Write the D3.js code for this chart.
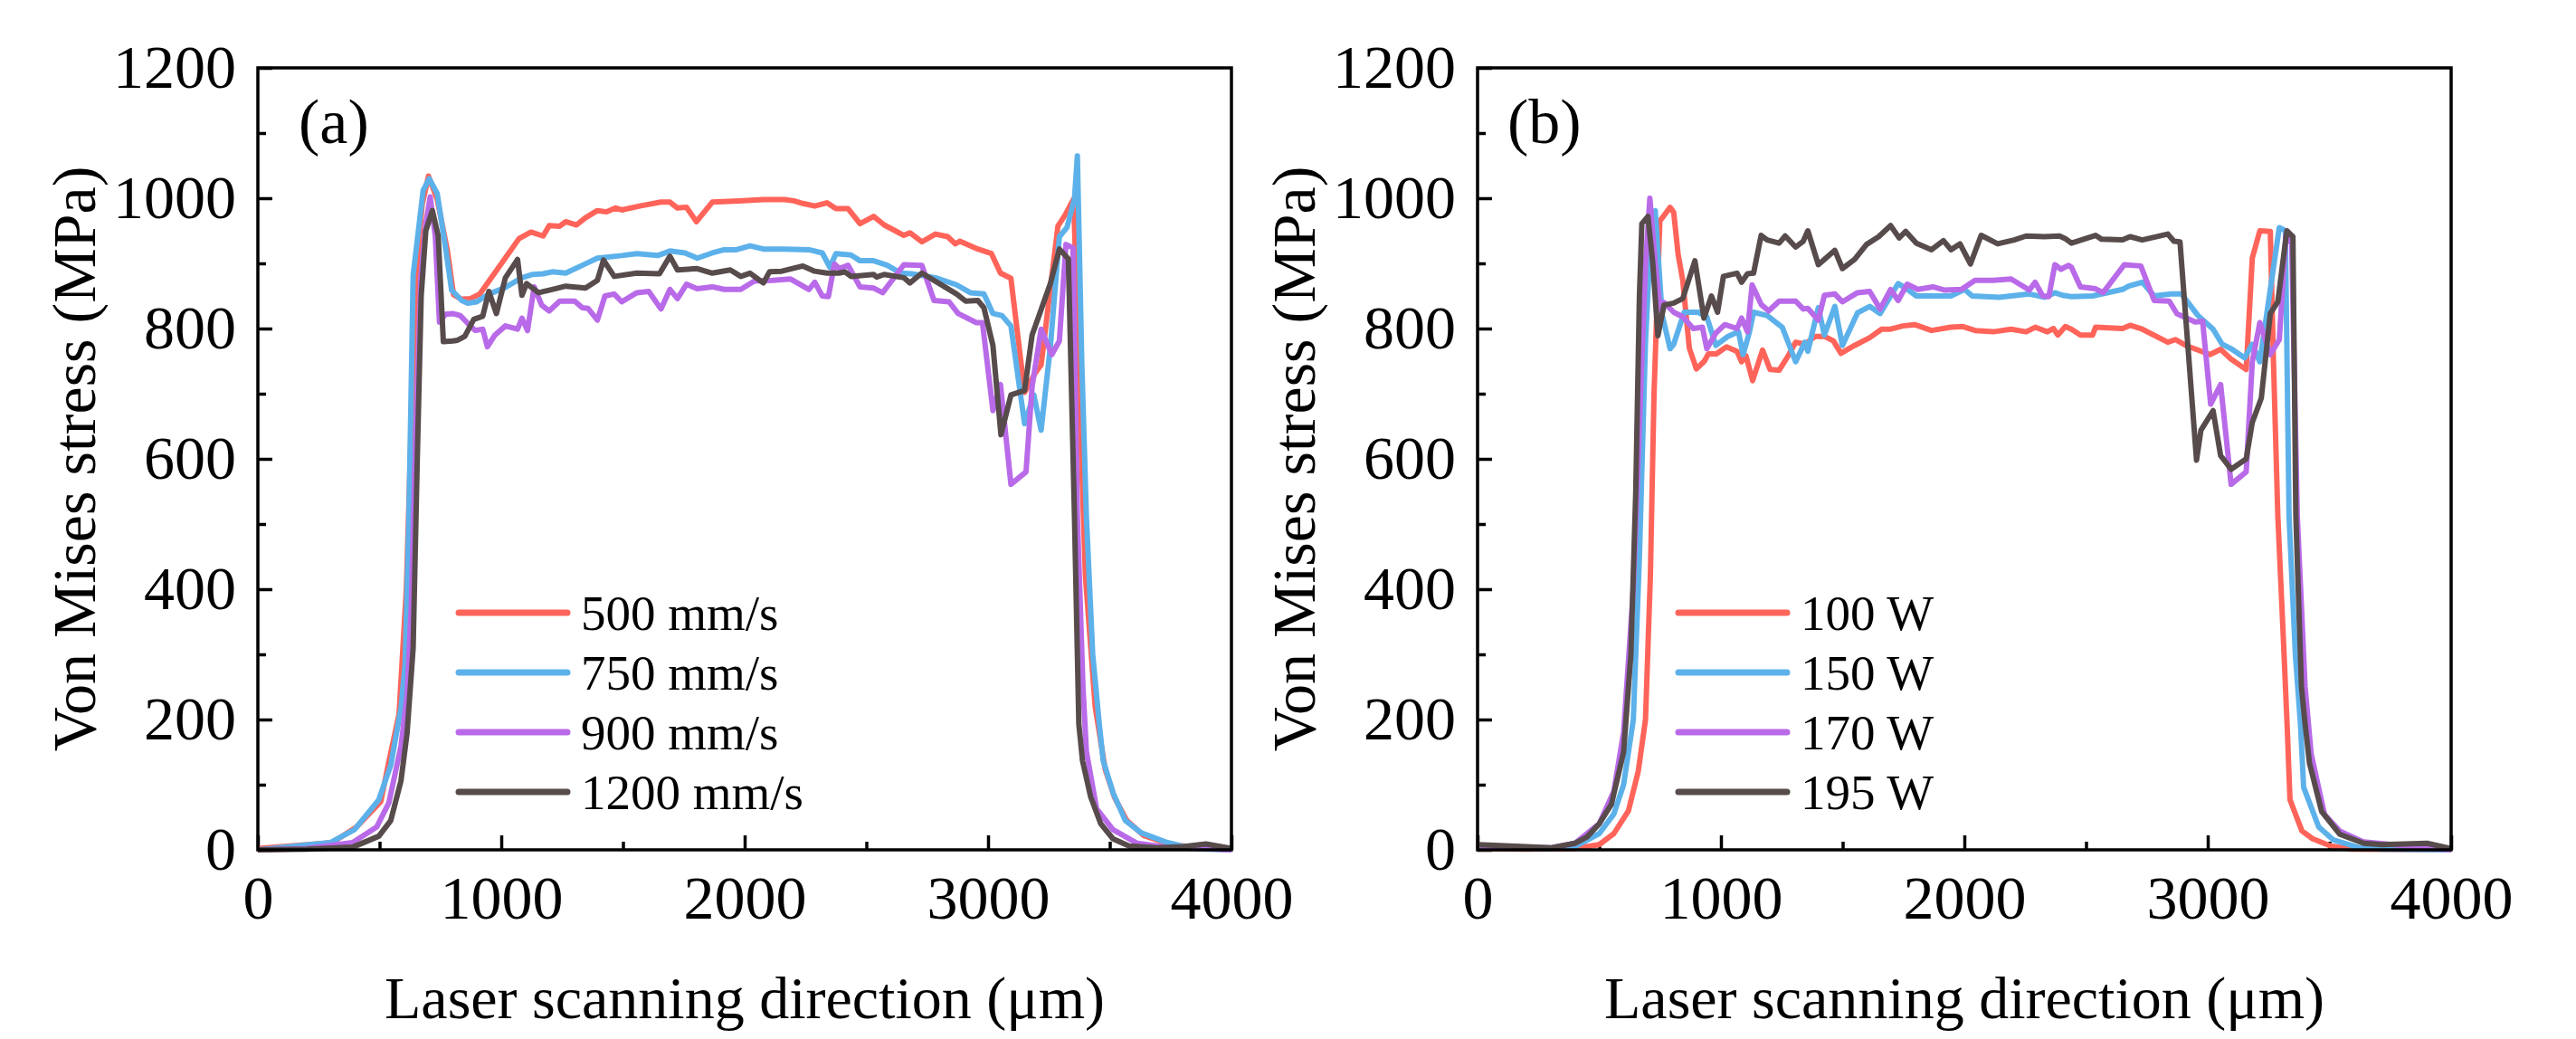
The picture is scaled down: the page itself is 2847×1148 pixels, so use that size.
<!DOCTYPE html>
<html>
<head>
<meta charset="utf-8">
<script src="https://cdn.jsdelivr.net/npm/d3@7"></script>
<style>
  body { margin: 0; background: #fff; }
  text { font-family: "Liberation Serif", "Times New Roman", serif; fill: #000; }
</style>
</head>
<body>
<div id="draw"></div>
<script>
// panel (a): scan speed, [x µm, stress MPa]
var speed500 = [[0,2],[206,8],[306,11],[405,35],[505,74],[538,135],[580,208],[610,400],[630,650],[650,880],[675,990],[701,1034],[737,998],[779,919],[804,852],[837,845],[874,846],[912,853],[986,892],[1073,938],[1122,948],[1172,942],[1197,958],[1240,957],[1265,964],[1309,959],[1346,970],[1395,981],[1433,979],[1470,985],[1495,982],[1569,988],[1656,994],[1693,994],[1724,985],[1761,986],[1802,964],[1867,994],[1978,996],[2077,998],[2164,998],[2202,996],[2239,992],[2288,988],[2338,993],[2375,984],[2425,984],[2474,961],[2530,972],[2573,959],[2654,943],[2679,947],[2728,933],[2784,945],[2834,941],[2865,930],[2884,934],[2958,922],[3014,915],[3051,885],[3094,877],[3150,702],[3194,732],[3218,744],[3287,957],[3318,975],[3352,999],[3375,700],[3400,420],[3440,220],[3481,124],[3520,80],[3570,45],[3640,22],[3750,8],[3900,2],[4000,0]];
var speed750 = [[0,0],[297,11],[397,31],[497,77],[546,130],[588,217],[605,285],[620,500],[638,882],[679,1012],[704,1030],[737,1007],[771,924],[796,859],[837,843],[862,839],[899,841],[949,853],[1011,862],[1085,878],[1129,883],[1172,884],[1209,887],[1265,885],[1333,897],[1395,908],[1495,912],[1557,915],[1643,912],[1693,919],[1755,916],[1805,908],[1867,916],[1916,921],[1966,921],[2022,927],[2077,922],[2164,922],[2264,921],[2319,916],[2350,894],[2375,915],[2437,913],[2474,904],[2530,904],[2586,897],[2642,885],[2685,884],[2784,878],[2871,867],[2927,855],[2983,853],[3020,823],[3057,820],[3094,804],[3150,654],[3188,698],[3218,644],[3256,772],[3293,941],[3324,955],[3355,999],[3367,1065],[3385,750],[3404,512],[3430,300],[3457,193],[3473,137],[3514,87],[3564,45],[3630,26],[3730,12],[3830,3],[3900,1],[4000,0]];
var speed900 = [[0,0],[200,2],[389,11],[488,35],[538,72],[588,159],[613,237],[630,373],[650,650],[670,880],[690,960],[708,1002],[729,942],[746,810],[771,822],[800,823],[831,820],[870,805],[893,797],[924,799],[943,772],[974,790],[1017,804],[1067,799],[1085,816],[1108,797],[1135,864],[1166,836],[1197,827],[1240,842],[1302,842],[1333,832],[1356,831],[1395,813],[1426,850],[1464,853],[1495,841],[1557,855],[1606,857],[1656,830],[1693,860],[1724,846],[1761,868],[1805,861],[1867,864],[1916,860],[1984,860],[2040,873],[2115,874],[2189,876],[2264,860],[2288,871],[2319,850],[2344,849],[2369,899],[2388,892],[2425,897],[2474,864],[2530,862],[2567,855],[2654,898],[2728,897],[2778,843],[2840,841],[2877,823],[2952,809],[2977,809],[3020,674],[3051,714],[3094,561],[3156,580],[3181,711],[3218,799],[3262,760],[3293,781],[3320,929],[3349,924],[3367,512],[3390,250],[3404,151],[3446,63],[3513,31],[3613,10],[3750,3],[3900,2],[4000,0]];
var speed1200 = [[0,0],[200,1],[389,4],[497,21],[546,45],[588,106],[613,179],[638,310],[655,600],[671,850],[690,950],[717,981],[741,942],[762,780],[800,781],[820,782],[850,788],[887,814],[924,819],[949,857],[980,823],[1017,878],[1067,906],[1085,851],[1104,869],[1153,855],[1209,860],[1265,865],[1346,862],[1395,874],[1420,905],[1464,880],[1557,885],[1650,884],[1693,911],[1724,890],[1805,892],[1867,885],[1941,890],[1984,880],[2022,885],[2077,870],[2102,887],[2152,888],[2239,896],[2288,888],[2338,885],[2388,885],[2412,887],[2437,880],[2530,883],[2542,879],[2573,883],[2654,878],[2679,870],[2728,885],[2871,853],[2908,842],[2958,843],[2983,832],[3020,774],[3053,637],[3094,698],[3150,705],[3181,790],[3256,869],[3293,922],[3330,907],[3355,512],[3373,193],[3388,137],[3421,82],[3463,40],[3513,17],[3579,6],[3695,3],[3800,5],[3895,9],[4000,2]];

// panel (b): laser power
var power100 = [[0,2],[200,1],[400,2],[500,8],[560,25],[620,60],[660,120],[690,200],[710,420],[725,700],[749,965],[791,986],[806,978],[824,914],[843,874],[870,770],[899,738],[932,750],[948,761],[981,761],[1023,772],[1066,765],[1085,749],[1103,758],[1130,720],[1171,767],[1202,737],[1239,736],[1276,758],[1307,779],[1345,776],[1388,788],[1425,788],[1462,781],[1493,762],[1549,774],[1611,786],[1660,799],[1697,799],[1747,804],[1796,806],[1865,797],[1945,802],[1994,803],[2044,797],[2118,795],[2192,799],[2254,795],[2291,802],[2341,795],[2366,800],[2384,790],[2415,803],[2440,799],[2477,790],[2527,790],[2539,802],[2650,800],[2681,805],[2731,799],[2836,779],[2867,783],[2910,774],[2960,767],[3009,760],[3053,768],[3096,753],[3158,737],[3183,908],[3214,950],[3257,949],[3270,750],[3288,512],[3310,330],[3326,193],[3338,77],[3387,29],[3431,17],[3505,6],[3592,1],[4000,0]];
var power150 = [[0,3],[300,2],[400,5],[500,25],[560,55],[600,100],[640,200],[665,450],[690,780],[710,930],[730,981],[758,822],[791,769],[806,776],[849,825],[905,825],[942,818],[979,774],[1029,788],[1072,795],[1091,760],[1116,793],[1134,825],[1190,820],[1252,802],[1307,749],[1345,779],[1357,765],[1400,832],[1425,790],[1468,834],[1499,774],[1561,824],[1611,834],[1654,823],[1728,869],[1759,862],[1803,850],[1945,850],[2001,860],[2032,850],[2143,848],[2267,853],[2329,848],[2372,855],[2403,851],[2440,849],[2527,850],[2650,860],[2675,865],[2731,871],[2780,850],[2849,853],[2892,853],[2960,820],[3022,799],[3059,776],[3096,769],[3152,755],[3183,776],[3214,749],[3294,955],[3319,950],[3334,512],[3360,300],[3381,193],[3394,96],[3456,35],[3517,15],[3617,4],[3716,1],[4000,0]];
var power170 = [[0,5],[300,3],[400,10],[500,40],[560,90],[600,180],[640,400],[670,700],[690,900],[708,1000],[730,900],[750,830],[766,840],[806,825],[843,818],[886,800],[924,802],[942,769],[979,793],[1016,806],[1066,800],[1085,816],[1109,795],[1128,867],[1165,837],[1196,827],[1239,842],[1307,842],[1338,830],[1357,831],[1400,813],[1425,851],[1468,853],[1499,841],[1561,855],[1611,857],[1654,830],[1697,860],[1728,843],[1765,868],[1809,860],[1871,864],[1920,859],[1988,860],[2044,874],[2118,874],[2192,876],[2267,859],[2291,871],[2322,850],[2347,849],[2372,898],[2397,891],[2428,897],[2440,894],[2477,864],[2539,861],[2570,855],[2657,898],[2725,896],[2780,843],[2842,842],[2873,823],[2948,810],[2979,811],[3012,684],[3053,714],[3096,561],[3158,580],[3183,749],[3214,809],[3257,760],[3294,783],[3321,943],[3345,930],[3368,512],[3400,250],[3425,147],[3480,54],[3542,29],[3641,12],[3901,3],[4000,0]];
var power195 = [[0,8],[200,5],[300,3],[400,10],[450,20],[500,40],[550,70],[600,150],[630,300],[650,550],[665,850],[675,961],[700,972],[720,900],[741,789],[766,836],[806,839],[843,846],[893,904],[930,816],[961,850],[986,825],[1010,880],[1066,885],[1085,871],[1109,884],[1134,885],[1165,943],[1190,936],[1239,931],[1264,942],[1307,925],[1338,934],[1357,950],[1400,898],[1468,920],[1499,892],[1549,906],[1598,929],[1648,941],[1697,958],[1732,939],[1759,949],[1803,931],[1865,921],[1914,935],[1945,921],[1982,930],[2025,899],[2069,943],[2137,930],[2205,936],[2254,942],[2329,941],[2391,942],[2415,938],[2440,931],[2539,943],[2564,937],[2650,936],[2681,941],[2731,936],[2836,945],[2861,934],[2886,933],[2954,598],[2972,644],[3022,674],[3053,605],[3096,584],[3158,600],[3183,656],[3220,693],[3257,823],[3288,841],[3325,950],[3350,941],[3362,512],[3385,250],[3400,193],[3418,133],[3468,59],[3542,24],[3641,10],[3716,8],[3901,10],[3988,3],[4000,2]];

var speedLabels = ['500 mm/s', '750 mm/s', '900 mm/s', '1200 mm/s'];
var powerLabels = ['100 W', '150 W', '170 W', '195 W'];
var colors = ['#ff645a', '#5db1ea', '#b96ae8', '#574b4b'];
var xTicks = [0, 1000, 2000, 3000, 4000];
var yTicks = [0, 200, 400, 600, 800, 1000, 1200];

var W = 1076, H = 864;
var svg = d3.select('#draw').append('svg').attr('width', 2847).attr('height', 1148);

function panel(left, tag, tagDx, series, labels) {
    var g = svg.append('g').attr('transform', 'translate(' + left + ',75)');
    var x = d3.scaleLinear().domain([0, 4000]).range([0, W]);
    var y = d3.scaleLinear().domain([0, 1200]).range([H, 0]);
    var fmt = d3.format('d');

    // minor ticks first, then labelled major ticks (all pointing inwards)
    var ax = g.append('g').attr('transform', 'translate(0,' + H + ')')
        .call(d3.axisBottom(x).tickValues(d3.range(500, 4000, 1000)).tickSize(-9).tickFormat(''));
    var ay = g.append('g')
        .call(d3.axisLeft(y).tickValues(d3.range(100, 1200, 200)).tickSize(-9).tickFormat(''));
    var bx = g.append('g').attr('transform', 'translate(0,' + H + ')')
        .call(d3.axisBottom(x).tickValues(xTicks).tickSize(-16).tickPadding(28).tickFormat(fmt));
    var by = g.append('g')
        .call(d3.axisLeft(y).tickValues(yTicks).tickSize(-16).tickPadding(24).tickFormat(fmt));
    [ax, ay, bx, by].forEach(function (a) {
        a.select('.domain').remove();
        a.selectAll('line').attr('stroke', '#000').attr('stroke-width', 3.5);
        a.selectAll('text').style('font-size', '68px').attr('fill', '#000');
    });

    var line = d3.line().x(function (d) { return x(d[0]); }).y(function (d) { return y(d[1]); });
    series.forEach(function (s, i) {
        g.append('path').attr('d', line(s)).attr('fill', 'none')
            .attr('stroke', colors[i]).attr('stroke-width', 6).attr('stroke-linejoin', 'round');
    });

    g.append('rect').attr('width', W).attr('height', H)
        .attr('fill', 'none').attr('stroke', '#000').attr('stroke-width', 3.5);

    g.append('text').attr('x', tagDx).attr('y', 83).style('font-size', '70px').text(tag);

    labels.forEach(function (t, i) {
        var ly = 602 + i * 66;
        g.append('line').attr('x1', 222).attr('x2', 342).attr('y1', ly).attr('y2', ly)
            .attr('stroke', colors[i]).attr('stroke-width', 7).attr('stroke-linecap', 'round');
        g.append('text').attr('x', 357).attr('y', ly).attr('dy', '0.35em')
            .style('font-size', '55px').text(t);
    });

    g.append('text').attr('transform', 'translate(-180,' + (H / 2) + ') rotate(-90)')
        .attr('text-anchor', 'middle').style('font-size', '68px').text('Von Mises stress (MPa)');
    g.append('text').attr('x', W / 2).attr('y', 1050).attr('text-anchor', 'middle')
        .style('font-size', '66px').text('Laser scanning direction (μm)');
}

panel(285, '(a)', 45, [speed500, speed750, speed900, speed1200], speedLabels);
panel(1633, '(b)', 33, [power100, power150, power170, power195], powerLabels);
</script>
</body>
</html>
